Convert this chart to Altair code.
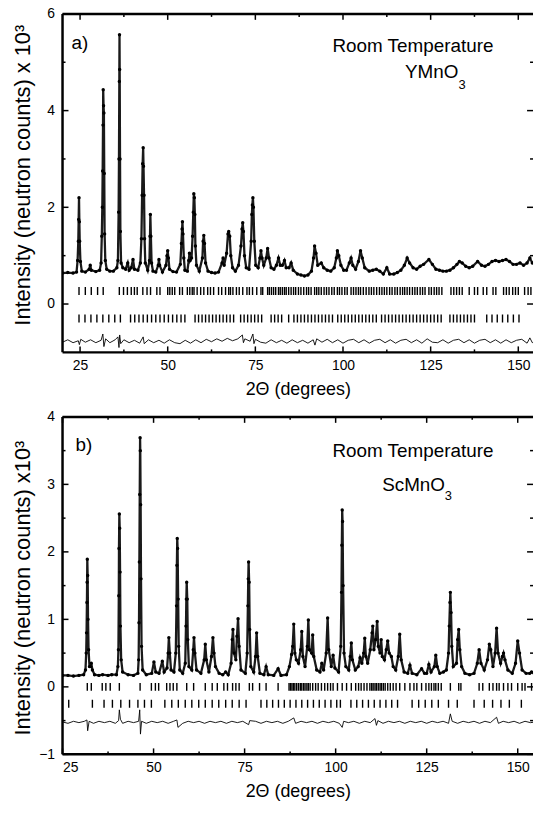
import altair as alt
import pandas as pd

FONT = "Liberation Sans"

# ---------------- Panel a : YMnO3 ----------------
a_x = [20.0, 21.5, 23.0, 24.0, 24.3, 24.5, 24.6, 24.7, 24.8, 24.9, 25.1, 25.5, 26.5, 27.6, 27.9, 28.2,
       29.5, 30.6, 31.0, 31.2, 31.35, 31.45, 31.55, 31.6, 31.7, 31.8, 31.9, 32.0, 32.2, 32.6, 33.5, 34.5,
       35.5, 35.8, 36.0, 36.1, 36.2, 36.25, 36.3, 36.4, 36.5, 36.7, 37.2, 38.0, 38.6, 39.0, 39.6, 40.1,
       40.5, 41.5, 42.2, 42.5, 42.7, 42.85, 43.0, 43.1, 43.25, 43.4, 43.6, 44.3, 44.8, 44.95, 45.05, 45.2,
       45.4, 45.8, 46.6, 47.3, 47.5, 47.7, 48.5, 49.5, 49.8, 50.0, 50.2, 50.5, 51.5, 52.5, 53.6, 53.9,
       54.1, 54.2, 54.35, 54.6, 54.9, 55.6, 56.0, 56.2, 56.4, 56.8, 57.1, 57.3, 57.45, 57.6, 57.75, 57.9,
       58.2, 59.0, 59.9, 60.1, 60.3, 60.5, 60.8, 61.5, 62.5, 63.5, 64.5, 65.5, 65.8, 66.1, 66.8, 67.2,
       67.4, 67.7, 68.0, 68.5, 69.3, 70.2, 70.9, 71.2, 71.4, 71.6, 71.9, 72.4, 73.2, 73.8, 74.0, 74.15,
       74.3, 74.45, 74.7, 75.1, 75.8, 76.3, 76.6, 76.9, 77.4, 78.1, 78.5, 78.9, 79.5, 80.3, 81.0, 81.6,
       82.1, 82.7, 83.3, 83.8, 84.6, 85.2, 85.8, 87.0, 88.0, 89.0, 90.0, 91.0, 91.6, 91.9, 92.3, 92.8,
       93.8, 94.5, 95.5, 96.5, 97.5, 98.1, 98.4, 98.8, 99.4, 100.2, 101.0, 101.8, 102.3, 102.8, 103.6, 104.4,
       105.0, 105.5, 106.2, 107.5, 108.5, 109.5, 110.5, 111.5, 112.5, 113.3, 114.5, 115.5, 116.5, 117.5, 118.3, 119.0,
       120.0, 121.0, 122.0, 123.0, 124.5, 125.5, 126.5, 127.5, 128.5, 129.5, 130.5, 131.5, 132.5, 133.2, 134.0, 135.0,
       136.0, 137.0, 138.4, 139.5, 140.5, 141.5, 142.5, 143.5, 144.5, 145.5, 146.5, 147.5, 148.5, 149.5, 150.5, 151.5,
       152.5, 153.3, 154.0, 155.0]
a_y = [0.64, 0.65, 0.64, 0.66, 0.90, 1.30, 1.75, 2.20, 1.70, 1.30, 0.88, 0.68, 0.66, 0.72, 0.80, 0.70,
       0.67, 0.70, 0.85, 1.40, 2.00, 2.75, 3.70, 4.43, 4.10, 3.95, 2.70, 1.45, 0.90, 0.72, 0.68, 0.68,
       0.75, 0.90, 1.90, 3.00, 4.60, 5.57, 4.85, 3.00, 1.50, 0.85, 0.75, 0.72, 0.85, 0.70, 0.75, 0.92,
       0.72, 0.70, 0.85, 1.35, 2.25, 2.90, 3.23, 2.85, 2.25, 1.35, 0.85, 0.70, 0.90, 1.40, 1.85, 1.40,
       0.85, 0.68, 0.66, 0.80, 0.92, 0.80, 0.66, 0.80, 1.00, 1.10, 0.95, 0.72, 0.67, 0.66, 0.82, 1.25,
       1.55, 1.70, 1.45, 0.95, 0.70, 0.68, 0.90, 1.05, 0.90, 0.95, 1.40, 1.90, 2.28, 2.20, 1.85, 1.20,
       0.80, 0.68, 0.95, 1.30, 1.42, 1.25, 0.85, 0.68, 0.65, 0.64, 0.66, 0.85, 0.95, 0.80, 1.05, 1.45,
       1.50, 1.40, 1.00, 0.75, 0.68, 0.80, 1.20, 1.55, 1.68, 1.50, 1.00, 0.75, 0.72, 1.30, 1.85, 2.05,
       2.20, 2.00, 1.30, 0.80, 0.75, 0.95, 1.10, 0.95, 0.80, 0.95, 1.15, 0.95, 0.75, 0.72, 0.80, 0.95,
       0.80, 0.80, 0.90, 0.75, 0.75, 0.85, 0.70, 0.62, 0.60, 0.58, 0.60, 0.68, 0.95, 1.20, 1.05, 0.80,
       0.85, 0.75, 0.70, 0.68, 0.75, 0.95, 1.10, 1.00, 0.80, 0.70, 0.70, 0.85, 0.95, 0.80, 0.72, 0.88,
       1.10, 0.95, 0.75, 0.68, 0.70, 0.72, 0.68, 0.62, 0.75, 0.62, 0.62, 0.65, 0.70, 0.80, 0.95, 0.85,
       0.75, 0.72, 0.78, 0.82, 0.92, 0.82, 0.72, 0.70, 0.68, 0.68, 0.70, 0.75, 0.82, 0.88, 0.85, 0.78,
       0.75, 0.78, 0.88, 0.80, 0.78, 0.82, 0.88, 0.90, 0.88, 0.90, 0.92, 0.88, 0.82, 0.82, 0.85, 0.80,
       0.85, 0.95, 0.85, 0.82]
a_diff_x = [20, 21.5, 23, 24.5, 24.8, 25.2, 26.5, 28, 29.5, 31, 31.5, 31.8, 32.3, 33.5, 35, 35.8, 36.1,
            36.3, 36.6, 37.5, 39, 40.5, 42, 43, 43.3, 44.5, 46, 47.5, 49, 50.5, 52, 53.5, 55, 56.5, 58,
            59.5, 61, 62.5, 64, 65.5, 67, 68.5, 70, 71.3, 71.6, 72, 73.5, 74.3, 74.6, 75, 76.5, 78, 79.5,
            81, 82.5, 84, 85.5, 87, 88.5, 90, 91.5, 92, 92.5, 94, 95.5, 97, 98.5, 100, 101.5, 103, 104.5,
            106, 107.5, 109, 110.5, 112, 113.5, 115, 116.5, 118, 119.5, 121, 122.5, 124, 125.5, 127, 128.5,
            130, 131.5, 133, 134.5, 136, 137.5, 139, 140.5, 142, 143.5, 145, 146.5, 148, 149.5, 151, 152.5,
            153.3, 154, 155]
a_diff_y = [-0.79, -0.74, -0.80, -0.76, -0.84, -0.73, -0.79, -0.74, -0.80, -0.75, -0.62, -0.88, -0.72, -0.80, -0.74, -0.68, -0.90,
            -0.64, -0.82, -0.74, -0.80, -0.75, -0.81, -0.68, -0.82, -0.74, -0.80, -0.75, -0.81, -0.74, -0.80, -0.82, -0.75, -0.81, -0.74,
            -0.80, -0.73, -0.78, -0.72, -0.77, -0.71, -0.76, -0.72, -0.64, -0.80, -0.72, -0.77, -0.62, -0.82, -0.73, -0.79, -0.81, -0.74,
            -0.80, -0.75, -0.81, -0.74, -0.80, -0.75, -0.81, -0.74, -0.85, -0.72, -0.79, -0.73, -0.80, -0.74, -0.81, -0.75, -0.73, -0.80,
            -0.74, -0.81, -0.75, -0.73, -0.80, -0.74, -0.81, -0.75, -0.73, -0.80, -0.74, -0.81, -0.72, -0.79, -0.80, -0.74,
            -0.81, -0.75, -0.73, -0.80, -0.74, -0.81, -0.75, -0.73, -0.80, -0.74, -0.81, -0.74, -0.80, -0.75, -0.73, -0.81,
            -0.70, -0.80, -0.76]
a_bragg1 = [24.7, 26.5, 28.2, 30.0, 31.6, 36.2, 37.4, 38.5, 39.6, 40.5, 41.3, 42.9, 44.1, 45.1, 46.9, 47.8,
            50.0, 50.6, 51.3, 52.0, 53.4, 54.2, 55.6, 56.3, 57.0, 57.5, 58.4, 59.4, 60.3, 61.4, 62.2, 63.1,
            64.5, 65.4, 66.5, 67.4, 67.9, 68.6, 69.6, 70.4, 71.4, 72.6, 73.3, 74.2, 75.4, 76.6, 77.1, 78.5,
            79.0, 79.6, 80.2, 80.8, 81.6, 82.1, 82.7, 83.3, 83.8, 84.5, 85.2, 85.9, 86.5, 87.3, 88.0, 88.8,
            89.6, 90.2, 90.9, 91.9, 92.5, 93.1, 93.8, 94.6, 95.3, 96.0, 96.8, 97.5, 98.4, 99.0, 99.7, 100.5,
            101.2, 102.3, 103.0, 103.7, 104.4, 105.0, 105.8, 106.6, 107.4, 108.1, 108.8, 109.6, 110.4, 111.1,
            111.8, 112.5, 113.3, 114.0, 114.8, 115.5, 116.3, 117.0, 117.6, 118.3, 119.0, 119.8, 120.5, 121.2,
            122.0, 122.7, 123.4, 124.5, 125.2, 126.0, 126.7, 127.4, 128.2, 130.8, 131.6, 132.4, 133.2, 134.0,
            136.0, 137.5, 138.4, 140.0, 141.0, 142.8, 143.6, 145.8, 146.6, 147.4, 148.4, 149.2, 150.0, 151.8,
            152.8, 153.6, 154.4]
a_bragg2 = [24.7, 26.4, 28.1, 29.8, 31.5, 33.2, 34.9, 36.5, 39.4, 40.6, 41.8, 43.0, 44.2, 45.4, 46.6, 47.8,
            49.0, 50.2, 51.4, 52.6, 53.8, 54.9, 57.8, 58.8, 59.8, 60.8, 61.8, 62.8, 63.8, 64.8, 65.8, 66.8,
            67.8, 68.8, 70.8, 71.8, 72.8, 73.8, 74.8, 75.8, 76.8, 79.5, 80.5, 81.5, 82.5, 84.5, 86.0, 87.0,
            88.0, 89.0, 90.0, 91.0, 92.0, 93.0, 94.0, 95.0, 96.0, 97.0, 98.5, 99.5, 100.5, 101.5, 102.5, 103.5,
            104.5, 105.5, 106.5, 107.5, 108.5, 109.5, 111.0, 112.0, 113.0, 114.0, 115.0, 116.0, 117.0, 118.0,
            119.0, 120.0, 121.0, 122.0, 123.0, 124.0, 125.0, 126.0, 127.0, 128.0, 130.5, 131.5, 132.5, 133.5,
            134.5, 135.5, 136.5, 137.5, 141.0, 142.5, 144.0, 145.5, 147.0, 148.6, 150.2]
a_texts = ["a)", "Room Temperature", "YMnO", "3"]
a_ytitle = "Intensity (neutron counts) x 10\u00b3"

# ---------------- Panel b : ScMnO3 ----------------
b_x = [25.0, 26.5, 28.0, 29.5, 30.8, 31.3, 31.5, 31.6, 31.7, 31.75, 31.8, 31.9, 32.0, 32.15, 32.4, 32.7,
       32.9, 33.2, 33.8, 35.0, 36.0, 37.5, 38.5, 39.8, 40.2, 40.35, 40.45, 40.5, 40.6, 40.7, 40.8, 40.9,
       41.1, 41.5, 43.0, 44.5, 45.7, 45.9, 46.0, 46.1, 46.2, 46.3, 46.35, 46.45, 46.55, 46.7, 47.0, 48.0,
       49.5, 50.1, 50.6, 51.5, 52.4, 52.9, 53.7, 54.0, 54.2, 54.45, 54.8, 55.6, 56.1, 56.3, 56.4, 56.5,
       56.6, 56.75, 56.9, 57.2, 58.0, 58.7, 58.9, 59.0, 59.1, 59.25, 59.4, 59.7, 60.5, 60.9, 61.1, 61.35,
       61.8, 63.0, 63.9, 64.2, 64.5, 65.2, 65.9, 66.3, 66.6, 67.0, 68.0, 69.0, 69.8, 70.5, 71.3, 71.6,
       71.8, 72.1, 72.6, 72.9, 73.2, 73.5, 74.0, 75.2, 75.7, 75.9, 76.0, 76.1, 76.25, 76.4, 76.7, 77.5,
       78.0, 78.3, 78.6, 79.2, 80.3, 80.9, 81.5, 83.0, 84.2, 85.0, 86.5, 87.3, 87.9, 88.2, 88.5, 88.8,
       89.2, 89.8, 90.4, 90.7, 91.0, 91.6, 92.2, 92.5, 92.8, 93.4, 93.7, 94.0, 94.8, 95.7, 96.2, 96.7,
       97.4, 97.8, 98.1, 98.8, 99.3, 99.8, 100.8, 101.4, 101.6, 101.7, 101.8, 101.9, 102.05, 102.3, 102.8, 103.6,
       104.0, 104.3, 104.6, 105.4, 106.2, 106.7, 107.2, 107.7, 108.0, 108.3, 108.8, 109.5, 110.0, 110.2, 110.5, 111.0,
       111.4, 111.7, 112.2, 112.5, 112.8, 113.4, 113.9, 114.3, 114.7, 115.3, 115.8, 116.5, 117.2, 117.6, 118.0, 118.8,
       119.8, 120.4, 121.0, 122.3, 123.6, 124.4, 125.0, 125.6, 126.2, 127.1, 127.5, 127.9, 128.6, 129.6, 130.4, 131.0,
       131.2, 131.4, 131.5, 131.7, 131.9, 132.3, 133.2, 133.5, 133.8, 134.1, 134.6, 135.5, 136.8, 138.0, 138.9, 139.4,
       139.9, 140.8, 141.7, 142.2, 142.6, 143.2, 143.8, 144.2, 144.6, 145.3, 145.8, 146.1, 146.5, 147.3, 148.5, 149.4,
       150.0, 150.5, 151.2, 152.3, 153.3, 153.8, 154.5, 155.0]
b_y = [0.17, 0.17, 0.16, 0.17, 0.18, 0.25, 0.50, 0.80, 1.25, 1.55, 1.89, 1.65, 1.00, 0.55, 0.30, 0.30,
       0.35, 0.25, 0.18, 0.17, 0.18, 0.17, 0.18, 0.18, 0.30, 0.55, 1.35, 2.05, 2.56, 2.35, 1.70, 0.90,
       0.40, 0.22, 0.18, 0.17, 0.20, 0.40, 0.95, 1.85, 2.85, 3.69, 3.50, 2.70, 1.60, 0.60, 0.25, 0.18,
       0.20, 0.37, 0.22, 0.20, 0.38, 0.22, 0.28, 0.50, 0.73, 0.50, 0.25, 0.22, 0.50, 1.20, 1.80, 2.20,
       2.05, 1.30, 0.60, 0.25, 0.20, 0.35, 0.90, 1.30, 1.55, 1.30, 0.70, 0.30, 0.25, 0.55, 0.73, 0.50,
       0.25, 0.20, 0.40, 0.63, 0.40, 0.22, 0.45, 0.73, 0.50, 0.30, 0.20, 0.18, 0.22, 0.18, 0.35, 0.70,
       0.85, 0.50, 0.40, 0.75, 1.01, 0.60, 0.25, 0.20, 0.50, 1.20, 1.60, 1.85, 1.55, 0.85, 0.30, 0.22,
       0.45, 0.80, 0.45, 0.20, 0.18, 0.30, 0.18, 0.17, 0.27, 0.17, 0.18, 0.30, 0.48, 0.60, 0.93, 0.50,
       0.40, 0.35, 0.55, 0.82, 0.45, 0.30, 0.60, 0.99, 0.55, 0.50, 0.77, 0.45, 0.25, 0.22, 0.35, 0.25,
       0.50, 1.02, 0.55, 0.30, 0.47, 0.28, 0.22, 0.60, 1.40, 2.10, 2.62, 2.45, 1.50, 0.50, 0.30, 0.25,
       0.45, 0.65, 0.40, 0.25, 0.30, 0.43, 0.35, 0.50, 0.72, 0.45, 0.35, 0.55, 0.80, 0.90, 0.55, 0.70,
       0.97, 0.60, 0.50, 0.70, 0.45, 0.40, 0.55, 0.68, 0.50, 0.45, 0.30, 0.25, 0.45, 0.78, 0.40, 0.22,
       0.20, 0.32, 0.20, 0.18, 0.27, 0.20, 0.20, 0.33, 0.22, 0.30, 0.47, 0.30, 0.20, 0.22, 0.25, 0.50,
       0.90, 1.25, 1.40, 1.10, 0.60, 0.30, 0.35, 0.70, 0.85, 0.55, 0.30, 0.20, 0.18, 0.20, 0.35, 0.55,
       0.35, 0.25, 0.40, 0.63, 0.55, 0.30, 0.50, 0.87, 0.50, 0.35, 0.45, 0.50, 0.40, 0.25, 0.20, 0.35,
       0.68, 0.50, 0.25, 0.20, 0.20, 0.22, 0.20, 0.18]
b_diff_x = [25, 26.5, 28, 29.5, 31, 31.7, 31.9, 32.3, 33.5, 35, 36.5, 38, 39.5, 40.4, 40.6, 40.9, 41.5,
            43, 44.5, 45.9, 46.2, 46.4, 46.7, 48, 49.5, 51, 52.5, 54, 55.5, 56.4, 56.7, 58, 59.5, 61, 62.5,
            64, 65.5, 67, 68.5, 70, 71.5, 73, 74.5, 76.1, 76.4, 78, 79.5, 81, 82.5, 84, 85.5, 87, 88.5, 89,
            90.5, 92, 93.5, 95, 96.5, 98, 99.5, 101, 101.8, 102.2, 103.5, 105, 106.5, 108, 109.5, 110.8,
            111.2, 111.6, 113, 114.5, 116, 117.5, 119, 120.5, 122, 123.5, 125, 126.5, 128, 129.5, 131,
            131.5, 132, 133.5, 135, 136.5, 138, 139.5, 141, 142.5, 144.2, 144.7, 146, 147.5, 149, 150.5,
            152, 153.5, 155]
b_diff_y = [-0.52, -0.54, -0.51, -0.53, -0.51, -0.49, -0.65, -0.51, -0.54, -0.51, -0.53, -0.51, -0.54, -0.50, -0.34, -0.48, -0.54,
            -0.51, -0.53, -0.51, -0.34, -0.70, -0.51, -0.54, -0.51, -0.53, -0.51, -0.54, -0.51, -0.49, -0.60, -0.54, -0.51, -0.53, -0.51,
            -0.54, -0.51, -0.53, -0.51, -0.54, -0.51, -0.53, -0.51, -0.56, -0.50, -0.51, -0.54, -0.51, -0.53, -0.51, -0.54, -0.51, -0.46, -0.54,
            -0.51, -0.53, -0.51, -0.54, -0.51, -0.53, -0.51, -0.54, -0.60, -0.51, -0.53, -0.51, -0.54, -0.51, -0.53, -0.47,
            -0.57, -0.50, -0.54, -0.51, -0.53, -0.51, -0.54, -0.51, -0.53, -0.51, -0.54, -0.51, -0.53, -0.51, -0.54,
            -0.40, -0.51, -0.54, -0.51, -0.53, -0.51, -0.54, -0.51, -0.53, -0.45, -0.54, -0.51, -0.53, -0.51, -0.54,
            -0.51, -0.53, -0.52]
b_bragg1 = [31.8, 32.9, 35.9, 36.9, 38.1, 40.6, 46.3, 49.4, 50.5, 51.4, 53.6, 54.5, 55.4, 56.4, 59.1, 61.0,
            64.2, 66.1, 67.5, 69.3, 70.3, 71.7, 72.6, 73.5, 76.3, 77.2, 79.1, 80.9, 84.2, 87.2, 87.6, 88.0,
            88.4, 88.8, 89.3, 89.8, 90.3, 90.7, 91.2, 91.6, 92.1, 92.5, 93.0, 93.7, 94.5, 95.2, 96.1, 97.0,
            97.8, 98.6, 99.3, 100.5, 101.8, 103.0, 104.3, 105.5, 106.3, 107.0, 107.8, 108.6, 109.4, 109.9,
            110.3, 110.8, 111.2, 111.7, 112.2, 112.6, 113.1, 113.6, 114.3, 115.0, 115.8, 116.6, 117.6, 119.0,
            120.4, 121.5, 122.3, 123.6, 124.8, 125.6, 126.3, 127.0, 127.5, 128.2, 129.0, 131.5, 133.8, 134.4,
            139.4, 140.4, 142.2, 143.2, 144.2, 144.9, 146.1, 147.3, 148.3, 150.0, 151.2, 152.0, 153.8, 154.4]
b_bragg2 = [26.7, 33.2, 36.4, 38.7, 41.0, 43.4, 45.7, 47.5, 49.4, 53.1, 55.0, 56.8, 58.7, 60.5, 62.4, 64.2,
            66.1, 67.9, 69.8, 71.6, 73.5, 75.4, 79.5, 81.1, 82.7, 84.3, 85.9, 87.5, 89.1, 90.7, 92.3, 93.9,
            95.5, 97.1, 98.7, 100.3, 101.3, 104.2, 105.8, 107.4, 109.0, 110.6, 112.2, 113.8, 115.4, 117.0,
            121.0, 122.8, 124.6, 126.4, 128.2, 131.0, 133.4, 138.0, 140.8, 143.1, 145.4, 147.7, 151.0]
b_texts = ["b)", "Room Temperature", "ScMnO", "3"]
b_ytitle = "Intensity (neutron counts) x10\u00b3"

x_title = "2\u0398 (degrees)"
x_major = [25, 50, 75, 100, 125, 150]
x_minor = [37.5, 62.5, 87.5, 112.5, 137.5]
a_y_major = [0, 2, 4, 6]
a_y_minor = [1, 3, 5]
b_y_major = [-1, 0, 1, 2, 3, 4]
b_y_minor = [-0.5, 0.5, 1.5, 2.5, 3.5]

W = 474


def panel(px, py, dx, dy, br1, br2, br_levels, xdom, ydom, ymaj, ymin, ytitle,
          texts, text_pos, H, title_y):
    xs = alt.Scale(domain=xdom, nice=False, zero=False)
    ys = alt.Scale(domain=ydom, nice=False, zero=False)
    X = alt.X("x:Q", scale=xs, axis=alt.Axis(
        title=x_title, values=x_major, format="d", ticks=False, domain=False, grid=False,
        labelFont=FONT, labelFontSize=14, labelColor="black", labelPadding=6,
        titleFont=FONT, titleFontSize=18, titleFontWeight="normal", titleColor="black",
        titlePadding=8))
    Y = alt.Y("y:Q", scale=ys, axis=alt.Axis(
        title=ytitle, values=ymaj, format="d", ticks=False, domain=False, grid=False,
        labelFont=FONT, labelFontSize=14, labelColor="black", labelPadding=8,
        titleFont=FONT, titleFontSize=22, titleFontWeight="normal", titleColor="black",
        titleX=-40, titleY=title_y, titleBaseline="middle"))

    prof = pd.DataFrame({"x": px, "y": py})
    diff = pd.DataFrame({"x": dx, "y": dy})
    layers = []
    layers.append(alt.Chart(prof).mark_line(color="#1a1a1a", strokeWidth=2.3, clip=True).encode(x=X, y=Y))
    layers.append(alt.Chart(prof).mark_circle(color="black", size=12, opacity=1, clip=True).encode(x=X, y=Y))
    layers.append(alt.Chart(pd.DataFrame({"x": br1})).mark_tick(
        orient="vertical", size=8, thickness=1.4, color="black", opacity=1, clip=True
    ).encode(x=X, y=alt.datum(br_levels[0])))
    layers.append(alt.Chart(pd.DataFrame({"x": br2})).mark_tick(
        orient="vertical", size=8, thickness=1.4, color="black", opacity=1, clip=True
    ).encode(x=X, y=alt.datum(br_levels[1])))
    layers.append(alt.Chart(diff).mark_line(color="black", strokeWidth=0.9, clip=True).encode(x=X, y=Y))

    # inward axis ticks
    for vals, ln in ((x_major, 6), (x_minor, 3)):
        d = pd.DataFrame({"x": vals})
        layers.append(alt.Chart(d).mark_rule(color="black", strokeWidth=1.5).encode(
            x=X, y=alt.value(H), y2=alt.value(H - ln)))
        layers.append(alt.Chart(d).mark_rule(color="black", strokeWidth=1.5).encode(
            x=X, y=alt.value(0), y2=alt.value(ln)))
    for vals, ln in ((ymaj, 6), (ymin, 3)):
        d = pd.DataFrame({"y": vals})
        layers.append(alt.Chart(d).mark_rule(color="black", strokeWidth=1.5).encode(
            y=Y, x=alt.value(0), x2=alt.value(ln)))
        layers.append(alt.Chart(d).mark_rule(color="black", strokeWidth=1.5).encode(
            y=Y, x=alt.value(W), x2=alt.value(W - ln)))

    # frame (left, top, bottom; the right edge lies just outside the window)
    fr = pd.DataFrame({"k": [0]})
    layers.append(alt.Chart(fr).mark_rule(color="black", strokeWidth=2.5).encode(
        x=alt.value(0), y=alt.value(0), y2=alt.value(H)))
    layers.append(alt.Chart(fr).mark_rule(color="black", strokeWidth=2.5).encode(
        x=alt.value(0), x2=alt.value(W), y=alt.value(0)))
    layers.append(alt.Chart(fr).mark_rule(color="black", strokeWidth=2.5).encode(
        x=alt.value(0), x2=alt.value(W), y=alt.value(H)))

    # annotations
    for t, (tx, ty, fs, al) in zip(texts, text_pos):
        layers.append(alt.Chart(pd.DataFrame({"t": [t]})).mark_text(
            font=FONT, fontSize=fs, align=al, baseline="middle", color="black"
        ).encode(x=alt.value(tx), y=alt.value(ty), text="t:N"))

    return alt.layer(*layers).properties(width=W, height=H)


pa = panel(a_x, a_y, a_diff_x, a_diff_y, a_bragg1, a_bragg2, (0.27, -0.30),
           [20, 154.2], [-1, 6], a_y_major, a_y_minor, a_ytitle, a_texts,
           [(9, 29, 19, "left"), (353, 32, 19, "center"), (345, 59, 19, "left"), (399, 72, 13, "left")],
           341, 162)
pb = panel(b_x, b_y, b_diff_x, b_diff_y, b_bragg1, b_bragg2, (0.0, -0.25),
           [25, 154.2], [-1, 4], b_y_major, b_y_minor, b_ytitle, b_texts,
           [(13, 28, 19, "left"), (353, 34, 19, "center"), (322, 69, 19, "left"), (385, 80, 13, "left")],
           340, 172)

chart = alt.vconcat(pa, pb, spacing=12).properties(
    padding={"left": 12, "top": 4, "right": 0, "bottom": 0}
).configure_view(stroke=None)

chart.save("out.html", embed_options={"renderer": "svg", "actions": False})
